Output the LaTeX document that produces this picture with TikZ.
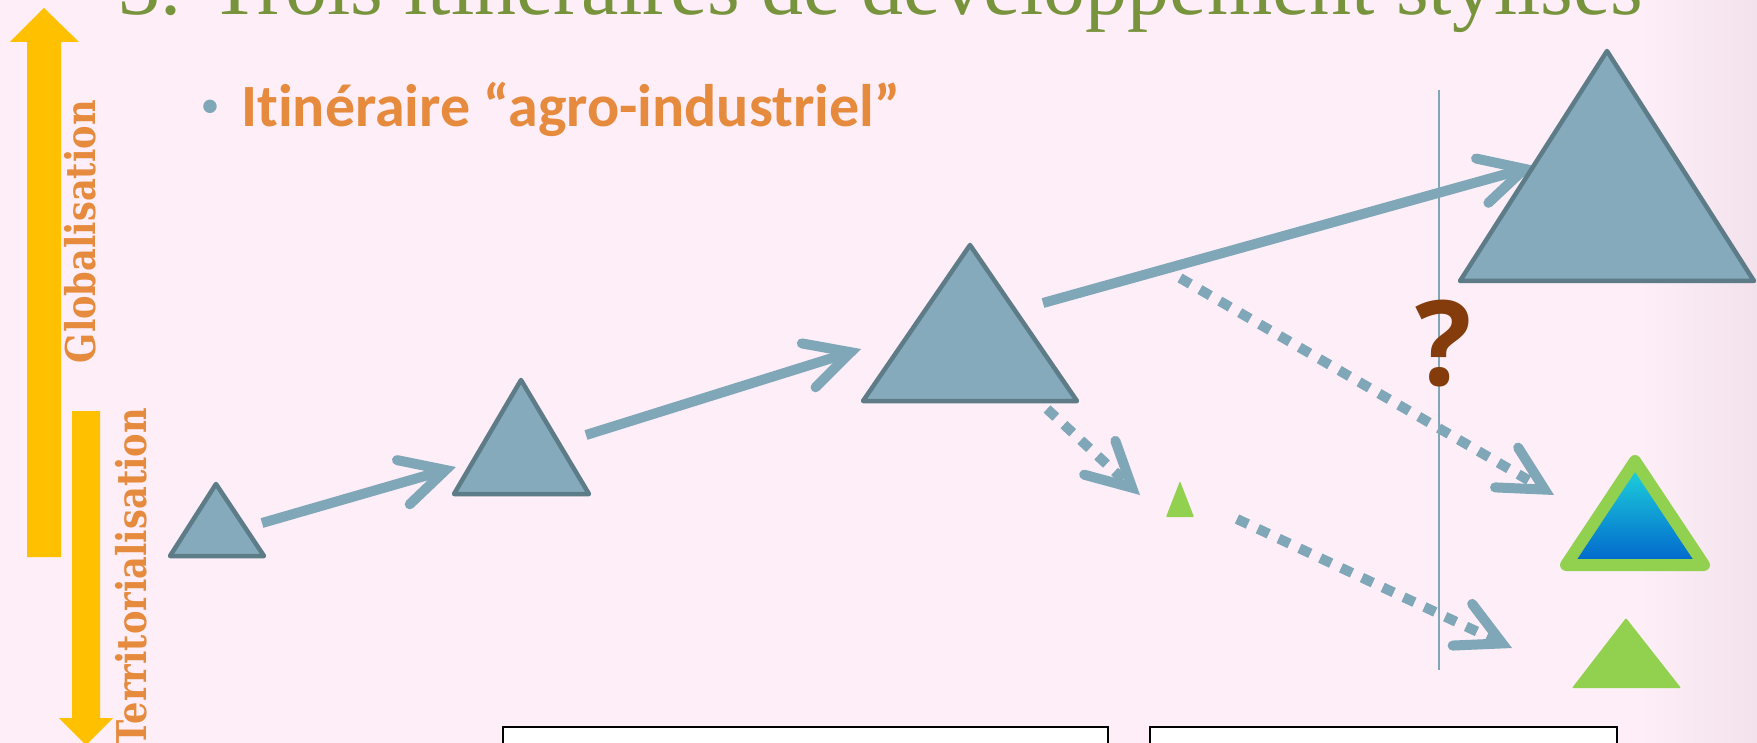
\documentclass[tikz,border=0pt]{standalone}
\usepackage{fontspec}
\usetikzlibrary{arrows.meta}
\newfontfamily\titlefont{Liberation Serif}
\newfontfamily\bulletfont[Ligatures=NoCommon]{Carlito}
\newfontfamily\axisfont[FakeStretch=0.86]{DejaVu Serif}
\newfontfamily\askfont{Open Sans}
\definecolor{bgpink}{RGB}{253,238,247}
\definecolor{bgedge}{RGB}{243,226,236}
\definecolor{olive}{RGB}{119,147,60}
\definecolor{orangetxt}{RGB}{230,138,62}
\definecolor{gold}{RGB}{255,192,0}
\definecolor{slate}{RGB}{132,170,187}
\definecolor{slatedark}{RGB}{94,123,136}
\definecolor{flowblue}{RGB}{127,167,184}
\definecolor{leaf}{RGB}{146,208,80}
\definecolor{aqua}{RGB}{32,216,220}
\definecolor{deepblue}{RGB}{0,100,204}
\definecolor{rust}{RGB}{132,60,12}
\begin{document}
\begin{tikzpicture}[x=1pt,y=1pt,
    tri/.style={fill=slate,draw=slatedark,line width=4.5pt,line join=round},
    flow/.style={draw=flowblue,line width=10pt,line cap=butt,
      -{Straight Barb[length=44pt,width=46pt,line cap=round,line join=miter]}},
    dotflow/.style={flow,line width=10pt,dash pattern=on 12pt off 11pt}]
                  \tikzstyle{every node}+=[inner sep=0pt]
                  \useasboundingbox (0,0) rectangle (1757,-743);
                  \clip (0,0) rectangle (1757,-743);
                  \fill [bgpink] (0,0) rectangle (1757,-743);
                  \shade [left color=bgpink,right color=bgedge] (1640,0) rectangle (1757,-743);
                  \fill [gold] (27,-557) -- (27,-42) -- (10,-42) -- (44,-8) -- (79,-42) -- (61,-42) -- (61,-557) -- cycle;
                  \fill [gold] (72,-411) -- (72,-718) -- (59,-718) -- (86,-745) -- (113,-718) -- (100,-718) -- (100,-411) -- cycle;
                  \node [rotate=90,anchor=base east,text=orangetxt,font=\axisfont\bfseries\fontsize{41}{41}\selectfont] (glob) at (95,-100) {Globalisation};
                  \node [rotate=90,anchor=base east,text=orangetxt,font=\axisfont\bfseries\fontsize{41}{41}\selectfont] (terr) at (146,-408) {Territorialisation};
                  \node [anchor=base west,text=olive,font=\titlefont\fontsize{84}{84}\selectfont] (title) at (118,-15) {3. Trois itinéraires de développement stylisés};
                  \node [anchor=base,text=flowblue,font=\bulletfont\fontsize{38}{38}\selectfont] (dot) at (210,-118) {•};
                  \node [anchor=base west,text=orangetxt,font=\bulletfont\bfseries\fontsize{60}{60}\selectfont] (route) at (241,-127) {Itinéraire “agro-industriel”};
                  \coordinate (vtop) at (1439,-90);
                  \coordinate (vbot) at (1439,-670);
                  \draw [flowblue,line width=2pt] (vtop) -- (vbot);
                  \coordinate (a1s) at (262,-523);
                  \coordinate (a1e) at (456,-467);
                  \coordinate (a2s) at (586,-435);
                  \coordinate (a2e) at (861,-349);
                  \coordinate (a3s) at (1043,-303);
                  \coordinate (a3e) at (1535,-166);
                  \coordinate (d1s) at (1047,-409);
                  \coordinate (d1e) at (1140,-495);
                  \coordinate (d2s) at (1180,-278);
                  \coordinate (d2e) at (1554,-495);
                  \coordinate (d3s) at (1237,-519);
                  \coordinate (d3e) at (1512,-648);
                  \draw [flow] (a1s) -- (a1e);
                  \draw [flow] (a2s) -- (a2e);
                  \draw [flow] (a3s) -- (a3e);
                  \draw [dotflow] (d1s) -- (d1e);
                  \draw [dotflow] (d2s) -- (d2e);
                  \draw [dotflow] (d3s) -- (d3e);
                  \draw [tri] (216,-484) -- (170,-556) -- (264,-556) -- cycle;
                  \draw [tri] (521,-380) -- (454,-494) -- (589,-494) -- cycle;
                  \draw [tri] (970,-245) -- (863,-401) -- (1077,-401) -- cycle;
                  \draw [tri] (1607,-51) -- (1460,-281) -- (1754,-281) -- cycle;
                  \fill [leaf,rounded corners=1pt] (1180,-481) -- (1166,-517) -- (1194,-517) -- cycle;
                  \shade [top color=aqua,bottom color=deepblue] (1635,-461) -- (1566,-565) -- (1704,-565) -- cycle;
                  \draw [leaf,line width=12pt,line join=round] (1635,-461) -- (1566,-565) -- (1704,-565) -- cycle;
                  \fill [leaf,rounded corners=1pt] (1626,-618) -- (1572,-688) -- (1681,-688) -- cycle;
                  \node [anchor=base,text=rust,font=\askfont\bfseries\fontsize{118}{118}\selectfont] (ask) at (1444,-385) {?};
                  \draw [black,line width=2pt,fill=white] (503,-727) rectangle (1108,-760);
                  \draw [black,line width=2pt,fill=white] (1150,-727) rectangle (1617,-760);
              \end{tikzpicture}
\end{document}
